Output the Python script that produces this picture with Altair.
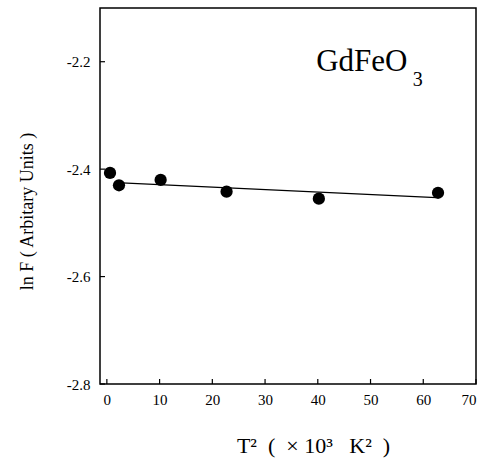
import altair as alt
import pandas as pd

# measured points
t2 = [0.6, 2.3, 10.2, 22.7, 40.2, 62.8]
lnF = [-2.407, -2.430, -2.420, -2.442, -2.455, -2.444]

# fitted line end points
fit_x = [1.8, 62.5]
fit_y = [-2.425, -2.453]

x_ticks = [0, 10, 20, 30, 40, 50, 60, 70]
y_ticks = [-2.8, -2.6, -2.4, -2.2]

FONT = "Liberation Serif"
W, H = 376, 376
NB = "\u00a0"

xs = alt.Scale(domain=[-1.3, 70], nice=False, zero=False)
ys = alt.Scale(domain=[-2.8, -2.1], nice=False, zero=False)

pts = pd.DataFrame({"x": t2, "y": lnF})
fit = pd.DataFrame({"x": fit_x, "y": fit_y})
xt = pd.DataFrame({"x": x_ticks})
yt = pd.DataFrame({"y": y_ticks})

x_title = f"T²{NB*2}({NB*2}×{NB}10³{NB*3}K²{NB*2})"

xaxis = alt.Axis(values=x_ticks, format="d", tickSize=0, domain=False, grid=False,
                 labelFont=FONT, labelFontSize=15, labelColor="black", labelPadding=8,
                 title=x_title, titleFont=FONT, titleFontSize=22,
                 titleFontWeight="normal", titleColor="black", titlePadding=28,
                 titleX=213, titleAlign="center")
yaxis = alt.Axis(values=y_ticks, tickSize=0, domain=False, grid=False,
                 labelExpr="replace(format(datum.value, '.1f'), '\u2212', '-')",
                 labelFont=FONT, labelFontSize=15, labelColor="black", labelPadding=10,
                 title="ln F ( Arbitary Units )", titleFont=FONT, titleFontSize=18,
                 titleFontWeight="normal", titleColor="black", titlePadding=30,
                 titleY=203, titleAlign="center")

line = alt.Chart(fit).mark_line(color="black", strokeWidth=1.3).encode(
    x=alt.X("x:Q", scale=xs, axis=xaxis),
    y=alt.Y("y:Q", scale=ys, axis=yaxis),
)

dots = alt.Chart(pts).mark_point(filled=True, color="black", opacity=1, size=150).encode(
    x=alt.X("x:Q", scale=xs),
    y=alt.Y("y:Q", scale=ys),
)

xtick_marks = alt.Chart(xt).mark_rule(color="black", strokeWidth=1.2).encode(
    x=alt.X("x:Q", scale=xs),
    y=alt.value(H),
    y2=alt.value(H - 5),
)
ytick_marks = alt.Chart(yt).mark_rule(color="black", strokeWidth=1.2).encode(
    y=alt.Y("y:Q", scale=ys),
    x=alt.value(0),
    x2=alt.value(5),
)

label_main = alt.Chart(pd.DataFrame({"x": [39.7], "y": [-2.218], "t": ["GdFeO"]})).mark_text(
    font=FONT, fontSize=31, align="left", baseline="alphabetic", color="black"
).encode(x=alt.X("x:Q", scale=xs), y=alt.Y("y:Q", scale=ys), text="t:N")
label_sub = alt.Chart(pd.DataFrame({"x": [58.0], "y": [-2.246], "t": ["3"]})).mark_text(
    font=FONT, fontSize=20, align="left", baseline="alphabetic", color="black"
).encode(x=alt.X("x:Q", scale=xs), y=alt.Y("y:Q", scale=ys), text="t:N")

chart = alt.layer(line, dots, xtick_marks, ytick_marks, label_main, label_sub).properties(
    width=W, height=H,
    autosize=alt.AutoSizeParams(type="none"),
    padding={"left": 100, "top": 8, "right": 14, "bottom": 74},
    background="white",
).configure_view(stroke="black", strokeWidth=1.5)

chart.save("out.html", embed_options={"renderer": "svg", "actions": False})
